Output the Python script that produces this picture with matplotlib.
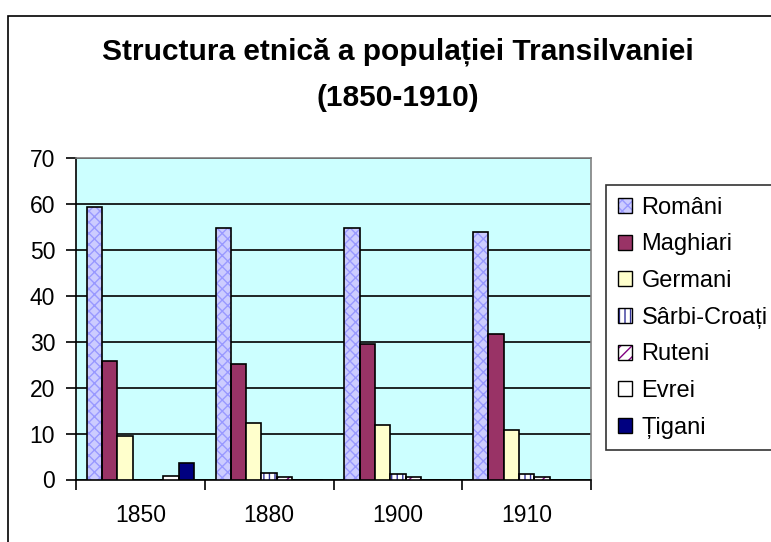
# -*- coding: utf-8 -*-
"""
Ethnic structure of Transylvania, 1850-1910, grouped bars.
"""
import numpy as np
import matplotlib
matplotlib.use('Agg')
import matplotlib.pyplot as plt
from matplotlib.patches import Rectangle

plt.rcParams['font.family'] = ['Liberation Sans', 'DejaVu Sans']
plt.rcParams['hatch.linewidth'] = 1.0

years = ['1850', '1880', '1900', '1910']
groups = ['Români', 'Maghiari', 'Germani', 'Sârbi-Croați', 'Ruteni', 'Evrei', 'Țigani']

romani = [59.4, 54.8, 54.8, 53.8]
maghiari = [25.9, 25.2, 29.5, 31.6]
germani = [9.4, 12.2, 11.8, 10.7]
sarbi_croati = [0, 1.5, 1.2, 1.2]
ruteni = [0, 0.6, 0.5, 0.5]
evrei = [0.7, 0, 0, 0]
tigani = [3.7, 0, 0, 0]

series = [romani, maghiari, germani, sarbi_croati, ruteni, evrei, tigani]

# face colour, hatch, hatch colour
styles = [
    ('#ccccff', 'xxx', '#9999ff'),
    ('#993366', None, None),
    ('#ffffcc', None, None),
    ('#ffffff', '|||', '#333399'),
    ('#ffffff', '///', '#800080'),
    ('#ffffff', '<', '#ff8080'),
    ('#000080', None, None),
]

fig = plt.figure(figsize=(7.71, 5.42), dpi=100)

# chart frame (runs off the right / bottom of the picture)
fig.patches.append(Rectangle((8 / 771, -0.05), 1.2, 1 - 16 / 542 + 0.05,
                             transform=fig.transFigure, fill=False,
                             edgecolor='black', linewidth=1.2))

ax = fig.add_axes([76 / 771, 1 - 479.5 / 542, (591 - 76) / 771, (479.5 - 158) / 542])
ax.set_facecolor('#ccffff')

n = len(series)
x = np.arange(len(years))
w = 1 / (n + 1.43)

for i, (vals, (fc, hatch, hc)) in enumerate(zip(series, styles)):
    pos = x - 0.5 + (1.43 / 2 + i + 0.5) * w
    if hatch:
        ax.bar(pos, vals, w, color=fc, hatch=hatch, edgecolor=hc, linewidth=0, zorder=3)
        ax.bar(pos, vals, w, fill=False, edgecolor='black', linewidth=1.2, zorder=4)
    else:
        ax.bar(pos, vals, w, color=fc, edgecolor='black', linewidth=1.2, zorder=3)

ax.set_xlim(-0.5, len(years) - 0.5)
ax.set_ylim(0, 70)
ax.set_yticks(range(0, 71, 10))
ax.yaxis.grid(True, color='black', linewidth=1.2, zorder=1)
ax.set_axisbelow(True)

ax.set_xticks(x)
ax.set_xticklabels(years)
ax.set_xticks(np.arange(len(years) + 1) - 0.5, minor=True)
ax.tick_params(axis='x', which='major', length=0, pad=18, labelsize=16.5)
ax.tick_params(axis='x', which='minor', length=7, width=1.2, direction='out')
ax.tick_params(axis='y', length=7, width=1.2, pad=8, labelsize=16.5)

for s in ['top', 'right']:
    ax.spines[s].set_color('#808080')
    ax.spines[s].set_linewidth(1.2)
for s in ['left', 'bottom']:
    ax.spines[s].set_color('black')
    ax.spines[s].set_linewidth(1.2)

fig.text(397.5 / 771, 1 - 59.3 / 542, 'Structura etnică a populației Transilvaniei',
         ha='center', va='baseline', fontsize=21.5, fontweight='bold')
fig.text(397.5 / 771, 1 - 106 / 542, '(1850-1910)',
         ha='center', va='baseline', fontsize=21.5, fontweight='bold')

handles = []
for fc, hatch, hc in styles:
    if hatch:
        handles.append((Rectangle((0, 0), 1, 1, facecolor=fc, hatch=hatch,
                                  edgecolor=hc, linewidth=0),
                        Rectangle((0, 0), 1, 1, fill=False, edgecolor='black', linewidth=1)))
    else:
        handles.append(Rectangle((0, 0), 1, 1, facecolor=fc, edgecolor='black', linewidth=1))

leg = fig.legend(handles, groups, loc='upper left',
                 bbox_to_anchor=(606 / 771, 1 - 185 / 542),
                 fontsize=17, frameon=True, fancybox=False, handlelength=0.6,
                 handleheight=0.6, handletextpad=0.4, labelspacing=0.62,
                 borderpad=0.5, borderaxespad=0)
leg.get_frame().set_edgecolor('black')
leg.get_frame().set_linewidth(1.2)

fig.savefig('out.png', dpi=100)
